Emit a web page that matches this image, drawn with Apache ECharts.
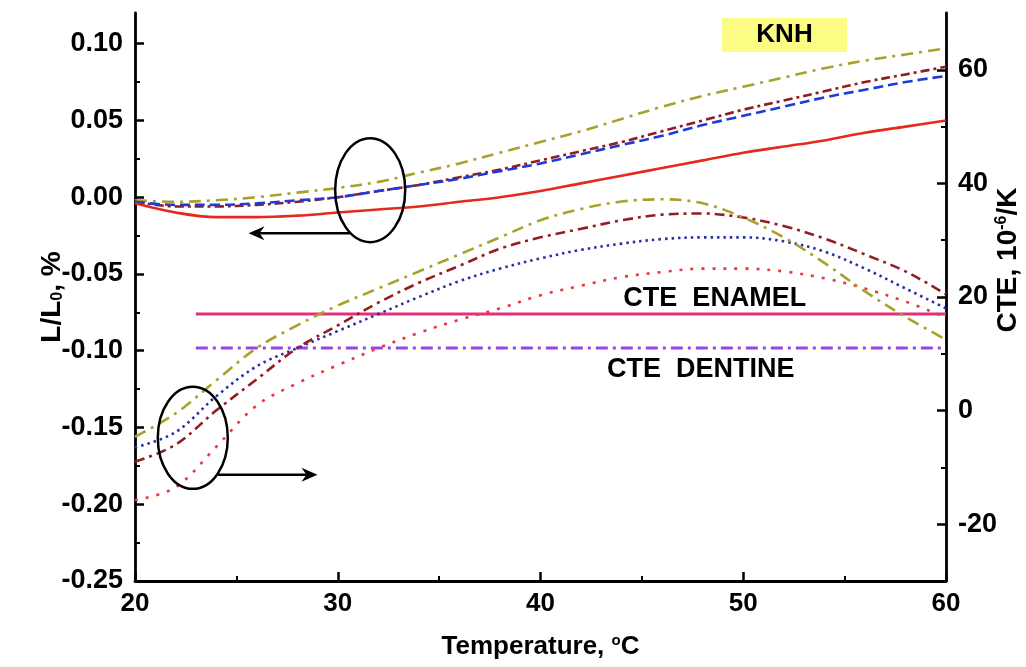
<!DOCTYPE html>
<html>
<head>
<meta charset="utf-8">
<script src="https://cdn.jsdelivr.net/npm/echarts@6/dist/echarts.min.js"></script>
<style>
html,body{margin:0;padding:0;background:#fff;}
#main{width:1026px;height:667px;}
</style>
</head>
<body>
<div id="main"></div>
<script>
// ---- data ----
const temps = [20,22,24,26,28,30,32,34,36,38,40,42,44,46,48,50,52,54,56,58,60];
// dilatation L/L0, % (left axis)
const dlRed   = [-0.004,-0.010,-0.013,-0.013,-0.012,-0.010,-0.008,-0.006,-0.003,0.000,0.004,0.009,0.014,0.019,0.024,0.029,0.033,0.037,0.042,0.046,0.050];
const dlBlue  = [-0.003,-0.005,-0.005,-0.004,-0.002,0.000,0.004,0.008,0.012,0.017,0.022,0.028,0.034,0.040,0.047,0.053,0.059,0.065,0.070,0.075,0.079];
const dlWine  = [-0.003,-0.006,-0.006,-0.005,-0.003,0.000,0.004,0.008,0.013,0.018,0.024,0.030,0.036,0.043,0.050,0.057,0.063,0.069,0.075,0.080,0.085];
const dlOlive = [-0.002,-0.003,-0.002,0.000,0.003,0.006,0.010,0.016,0.022,0.029,0.036,0.043,0.051,0.059,0.066,0.072,0.078,0.084,0.089,0.093,0.097];
// CTE, 10^-6/K (right axis)
const cteRed   = [-15.8,-13.5,-6.4,0.9,4.8,8.0,11.0,13.7,16.0,18.0,20.3,22.0,23.5,24.4,25.0,25.0,24.5,23.3,21.5,19.2,16.4];
const cteBlue  = [-6.5,-3.8,2.5,7.8,11.0,14.0,17.0,20.0,22.8,25.0,26.8,28.3,29.4,30.2,30.5,30.5,29.8,28.0,25.0,21.5,18.0];
const cteWine  = [-9.0,-6.0,0.0,5.5,11.0,15.0,19.0,22.5,25.5,28.5,30.5,32.0,33.5,34.5,34.7,34.0,32.5,30.3,27.5,24.5,20.5];
const cteOlive = [-4.6,-0.5,5.3,11.0,15.0,18.5,21.5,24.5,27.5,30.5,33.5,35.5,36.8,37.2,36.5,34.0,30.5,26.0,21.0,16.5,12.5];
// reference levels
const refRange = [23, 60];
const cteEnamel = 17;
const cteDentine = 11;
// tick values
const leftTicks = [-0.25,-0.20,-0.15,-0.10,-0.05,0.00,0.05,0.10];
const leftMinor = [-0.225,-0.175,-0.125,-0.075,-0.025,0.025,0.075];
const rightTicks = [-20,0,20,40,60];
const rightMinor = [-10,10,30,50];
// annotations (data coordinates)
const ellipseUp = {t:31.6, v:0.0046};            // left axis
const arrowUp = {from:30.6, to:25.6, v:-0.0235};  // left axis
const ellipseLow = {t:22.85, v:-4.8};            // right axis
const arrowLow = {from:24.1, to:29.0, v:-11.3};   // right axis
const enamelLabel = {t:48.6, v:19.8};
const dentineLabel = {t:47.9, v:7.3};

const FONT = '"Liberation Sans", Arial, sans-serif';
const pairs = (ys) => temps.map((t,i)=>[t, ys[i]]);

const chart = echarts.init(document.getElementById('main'), null, {renderer:'canvas'});

function lineSeries(name, ys, yIdx, color, type, z){
  return {
    name, type:'line', yAxisIndex:yIdx, data: pairs(ys), showSymbol:false, symbol:'none',
    smooth:0.35, z: z||2,
    lineStyle:{color, width:2.6, type, cap:'butt'}
  };
}

const axisBlack = {lineStyle:{color:'#000', width:2.8}};
const yLabel = {color:'#000', fontSize:27, fontWeight:'bold', fontFamily:FONT};

const option = {
  animation:false,
  backgroundColor:'#fff',
  grid:{left:135, right:80, top:13, bottom:86, containLabel:false, outerBoundsMode:'none'},
  xAxis:{
    type:'value', min:20, max:60, interval:10,
    axisLine:{show:true, onZero:false, ...axisBlack},
    axisTick:{show:true, inside:true, length:9, lineStyle:{color:'#000', width:2.5}},
    minorTick:{show:true, splitNumber:2, length:5, lineStyle:{color:'#000', width:2}},
    splitLine:{show:false}, minorSplitLine:{show:false},
    axisLabel:{color:'#000', fontSize:26, fontWeight:'bold', fontFamily:FONT, margin:10},
    name:'Temperature, {sup|o}C', nameLocation:'middle', nameGap:52, nameMoveOverlap:false,
    nameTextStyle:{color:'#000', fontSize:26, fontWeight:'bold', fontFamily:FONT,
      rich:{sup:{fontSize:15, fontWeight:'bold', fontFamily:FONT, verticalAlign:'top', padding:[0,0,12,0]}}}
  },
  yAxis:[
    {
      type:'value', position:'left', min:-0.25, max:0.12,
      axisLine:{show:true, onZero:false, ...axisBlack},
      axisTick:{show:true, inside:true, length:9, customValues:leftTicks, lineStyle:{color:'#000', width:2.5}},
      axisLabel:{...yLabel, margin:12, customValues:leftTicks, formatter:(v)=>v.toFixed(2)},
      splitLine:{show:false},
      name:'L/L{sub|0}, %', nameLocation:'middle', nameGap:69, nameRotate:90, nameMoveOverlap:false,
      nameTextStyle:{color:'#000', fontSize:28, fontWeight:'bold', fontFamily:FONT,
        rich:{sub:{fontSize:16, fontWeight:'bold', fontFamily:FONT, verticalAlign:'bottom', padding:[8,0,0,0]}}}
    },
    {
      type:'value', position:'right', min:-30, max:70,
      axisLine:{show:true, onZero:false, ...axisBlack},
      axisTick:{show:true, inside:true, length:9, customValues:rightTicks, lineStyle:{color:'#000', width:2.5}},
      axisLabel:{...yLabel, margin:12, customValues:rightTicks},
      splitLine:{show:false},
      name:'CTE, 10{sup|-6}/K', nameLocation:'middle', nameGap:48, nameRotate:90, nameMoveOverlap:false,
      nameTextStyle:{color:'#000', fontSize:28, fontWeight:'bold', fontFamily:FONT, padding:[0,0,0,74],
        rich:{sup:{fontSize:16, fontWeight:'bold', fontFamily:FONT, verticalAlign:'top', padding:[0,0,12,0]}}}
    },
    {
      type:'value', position:'left', min:-0.25, max:0.12,
      axisLine:{show:false, onZero:false},
      axisTick:{show:true, inside:true, length:5, customValues:leftMinor, lineStyle:{color:'#000', width:2}},
      axisLabel:{show:false}, splitLine:{show:false}
    },
    {
      type:'value', position:'right', min:-30, max:70,
      axisLine:{show:false, onZero:false},
      axisTick:{show:true, inside:true, length:5, customValues:rightMinor, lineStyle:{color:'#000', width:2}},
      axisLabel:{show:false}, splitLine:{show:false}
    }
  ],
  series:[
    {name:'enamel', type:'line', yAxisIndex:1, data:refRange.map(t=>[t,cteEnamel]), showSymbol:false, symbol:'none',
      lineStyle:{color:'#e0307e', width:3, type:'solid'}, z:1},
    {name:'dentine', type:'line', yAxisIndex:1, data:refRange.map(t=>[t,cteDentine]), showSymbol:false, symbol:'none',
      lineStyle:{color:'#9b44e2', width:3, type:[12,5,3,5]}, z:1},
    lineSeries('cteRed', cteRed, 1, '#e8383c', [3,8]),
    lineSeries('cteBlue', cteBlue, 1, '#2a2fa6', [2.5,4]),
    lineSeries('cteWine', cteWine, 1, '#951c22', [10,5,3,5]),
    lineSeries('cteOlive', cteOlive, 1, '#a8a22a', [12,6,3,6]),
    lineSeries('dlOlive', dlOlive, 0, '#a8a22a', [12,6,3,6]),
    lineSeries('dlWine', dlWine, 0, '#8f1d22', [9,4,3,4]),
    lineSeries('dlBlue', dlBlue, 0, '#1e3ad8', [10,5]),
    lineSeries('dlRed', dlRed, 0, '#e32a1c', 'solid', 3)
  ]
};
chart.setOption(option);

function px(t){ return chart.convertToPixel({xAxisIndex:0}, t); }
function pyL(v){ return chart.convertToPixel({yAxisIndex:0}, v); }
function pyR(v){ return chart.convertToPixel({yAxisIndex:1}, v); }

function arrow(x1, x2, y){
  const dir = Math.sign(x2 - x1);
  const hl = 16, hw = 7, notch = 5;
  const base = x2 - dir*hl;
  return [
    {type:'line', shape:{x1:x1, y1:y, x2:base + dir*notch, y2:y}, style:{stroke:'#000', lineWidth:2.5}, z:10},
    {type:'polygon', shape:{points:[[x2,y],[base,y-hw],[base+dir*notch,y],[base,y+hw]]}, style:{fill:'#000'}, z:10}
  ];
}

const elements = [];
// KNH box
elements.push({type:'rect', shape:{x:722, y:18, width:125, height:34}, style:{fill:'#fcfc84'}, z:5});
elements.push({type:'text', x:784.5, y:35, style:{text:'KNH', font:'bold 26px '+FONT, fill:'#000', align:'center', verticalAlign:'middle'}, z:6});
// reference labels
elements.push({type:'text', x:px(enamelLabel.t), y:pyR(enamelLabel.v), style:{text:'CTE  ENAMEL', font:'bold 27px '+FONT, fill:'#000', align:'center', verticalAlign:'middle'}, z:6});
elements.push({type:'text', x:px(dentineLabel.t), y:pyR(dentineLabel.v), style:{text:'CTE  DENTINE', font:'bold 27px '+FONT, fill:'#000', align:'center', verticalAlign:'middle'}, z:6});
// ellipses
elements.push({type:'ellipse', shape:{cx:px(ellipseUp.t), cy:pyL(ellipseUp.v), rx:35, ry:52}, style:{fill:'none', stroke:'#000', lineWidth:2.5}, z:10});
elements.push({type:'ellipse', shape:{cx:px(ellipseLow.t), cy:pyR(ellipseLow.v), rx:35, ry:51}, style:{fill:'none', stroke:'#000', lineWidth:2.5}, z:10});
// arrows
elements.push(...arrow(px(arrowUp.from), px(arrowUp.to), pyL(arrowUp.v)));
elements.push(...arrow(px(arrowLow.from), px(arrowLow.to), pyR(arrowLow.v)));

chart.setOption({graphic:{elements}});
</script>
</body>
</html>
